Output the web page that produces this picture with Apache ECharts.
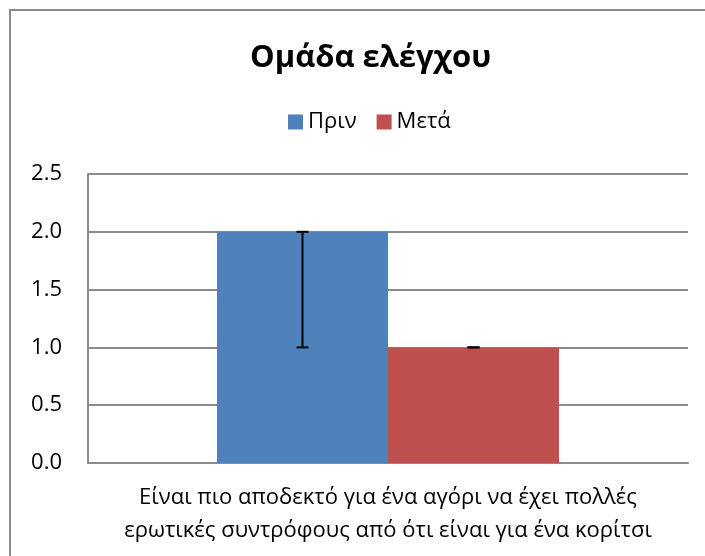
<!DOCTYPE html>
<html>
<head>
<meta charset="utf-8">
<script src="https://cdn.jsdelivr.net/npm/echarts@6/dist/echarts.min.js"></script>
<style>
  html, body { margin: 0; padding: 0; background: #fff; }
  #chart { width: 705px; height: 556px; }
</style>
</head>
<body>
<div id="chart"></div>
<script>
// data
const categories = ['Είναι πιο αποδεκτό για ένα αγόρι να έχει πολλές\nερωτικές συντρόφους από ότι είναι για ένα κορίτσι'];
const seriesNames = ['Πριν', 'Μετά'];
const beforeValues = [2.0];
const afterValues = [1.0];
// error bar ranges [low, high]
const beforeErr = [[1.0, 2.0]];
const afterErr = [[1.0, 1.0]];

const colors = ['#4F81BD', '#C0504D'];
const font = '"Open Sans", "Noto Sans", sans-serif';
const catGap = 0.43; // barCategoryGap as fraction

const chart = echarts.init(document.getElementById('chart'));

// error bar drawer, shift = -1 left bar, +1 right bar
function errorRender(shift) {
  return function (params, api) {
    const idx = api.value(0);
    const lo = api.coord([idx, api.value(1)]);
    const hi = api.coord([idx, api.value(2)]);
    const band = api.size([1, 0])[0];
    const barW = band * (1 - catGap) / 2;
    const x = lo[0] + shift * barW / 2;
    const cap = 6;
    const style = { stroke: '#000', lineWidth: 2 };
    return {
      type: 'group',
      children: [
        { type: 'line', shape: { x1: x, y1: lo[1], x2: x, y2: hi[1] }, style: style },
        { type: 'line', shape: { x1: x - cap, y1: lo[1], x2: x + cap, y2: lo[1] }, style: style },
        { type: 'line', shape: { x1: x - cap, y1: hi[1], x2: x + cap, y2: hi[1] }, style: style }
      ]
    };
  };
}

chart.setOption({
  animation: false,
  color: colors,
  title: {
    text: 'Ομάδα ελέγχου',
    left: 245,
    top: 38,
    textStyle: { fontFamily: font, fontSize: 31, fontWeight: 'bold', color: '#000' }
  },
  legend: {
    data: seriesNames,
    top: 106,
    left: 283,
    itemWidth: 15,
    itemHeight: 15,
    itemGap: 20,
    icon: 'rect',
    textStyle: { fontFamily: font, fontSize: 22, color: '#000' }
  },
  graphic: [{
    type: 'rect',
    shape: { x: 10, y: 10, width: 900, height: 900 },
    style: { fill: 'none', stroke: '#8c8c8c', lineWidth: 2 },
    silent: true
  }],
  grid: { left: 88, right: 17, top: 174, bottom: 93 },
  xAxis: {
    type: 'category',
    data: categories,
    axisTick: { show: false },
    axisLine: { lineStyle: { color: '#8c8c8c', width: 2 } },
    axisLabel: { fontFamily: font, fontSize: 22, color: '#000', margin: 18, lineHeight: 33 }
  },
  yAxis: {
    type: 'value',
    min: 0,
    max: 2.5,
    interval: 0.5,
    axisLine: { show: true, lineStyle: { color: '#8c8c8c', width: 2 } },
    axisTick: { show: false },
    splitLine: { lineStyle: { color: '#8c8c8c', width: 2 } },
    axisLabel: {
      fontFamily: font, fontSize: 22, color: '#000', margin: 26,
      formatter: v => v.toFixed(1)
    }
  },
  series: [
    {
      name: seriesNames[0], type: 'bar', data: beforeValues,
      barGap: 0, barCategoryGap: (catGap * 100) + '%'
    },
    {
      name: seriesNames[1], type: 'bar', data: afterValues,
      barGap: 0, barCategoryGap: (catGap * 100) + '%'
    },
    {
      type: 'custom', renderItem: errorRender(-1), z: 10,
      data: beforeErr.map((e, i) => [i, e[0], e[1]])
    },
    {
      type: 'custom', renderItem: errorRender(1), z: 10,
      data: afterErr.map((e, i) => [i, e[0], e[1]])
    }
  ]
});
</script>
</body>
</html>
